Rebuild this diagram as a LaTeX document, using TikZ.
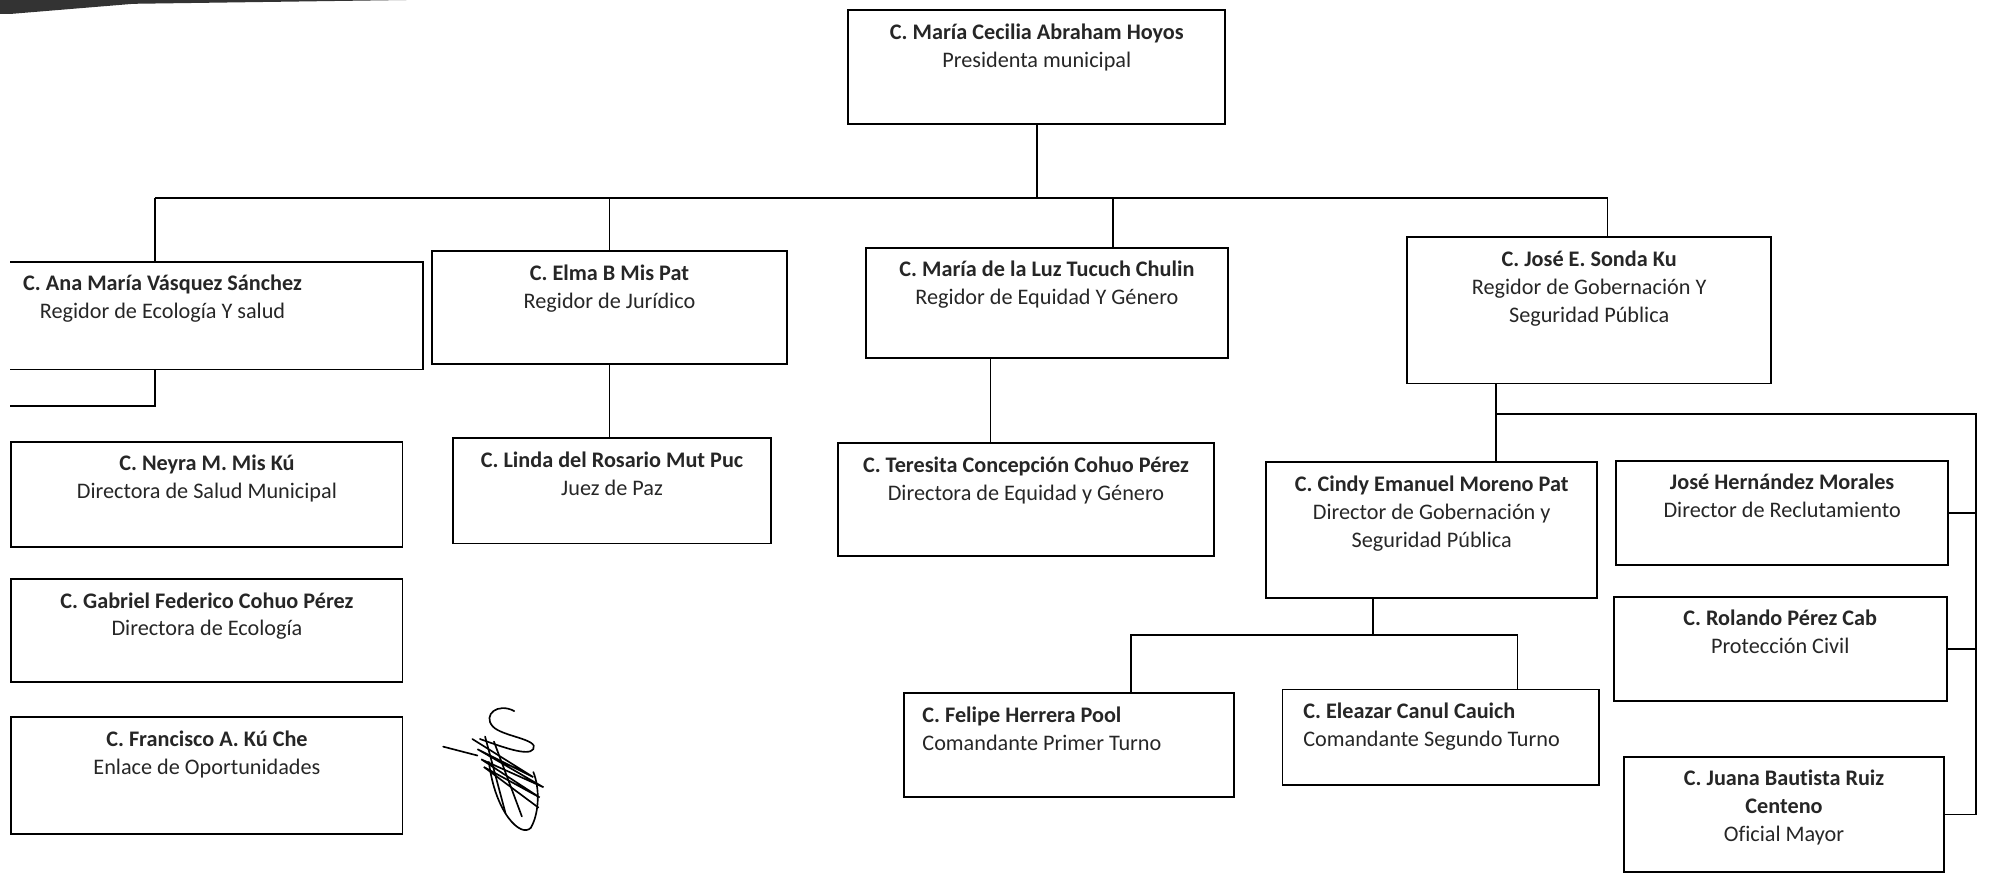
\documentclass[tikz,border=0pt]{standalone}
\usepackage{fontspec}
\setmainfont{Carlito}[Ligatures=NoCommon]
\usetikzlibrary{positioning}
\tikzstyle{caja}=[draw, rectangle, line width=1.5pt, inner sep=0pt]
\tikzstyle{texto}=[align=center, inner sep=0pt, text=black!85, font=\fontsize{17.5}{22}\selectfont]
\tikzstyle{textoizq}=[texto, align=left]
\tikzstyle{linea}=[line width=1.4pt]

\begin{document}
\begin{tikzpicture}[x=1pt, y=-1pt]
\useasboundingbox (0,0) rectangle (1568,688);
% Scan mark
    \fill[black!80] (0,0) -- (320,0) -- (105,3) -- (8,11) -- (0,11) -- cycle;
% Boxes
    \node[caja, minimum width=297, minimum height=90] (pres) at (816.5,53) {};
    \begin{scope}
    \clip (8,0) rectangle (1568,688);
    \node[caja, minimum width=410, minimum height=85] (ana) at (128,248.5) {};
    \node[caja, minimum width=308, minimum height=83] (neyra) at (163,389.5) {};
    \node[caja, minimum width=308, minimum height=81] (gabriel) at (163,496.5) {};
    \node[caja, minimum width=308, minimum height=92] (francisco) at (163,611) {};
    \end{scope}
    \node[caja, minimum width=280, minimum height=89] (elma) at (480,242.5) {};
    \node[caja, minimum width=250, minimum height=83] (linda) at (482,386.5) {};
    \node[caja, minimum width=285, minimum height=87] (maria) at (824.5,238.5) {};
    \node[caja, minimum width=296, minimum height=89] (teresita) at (808,393.5) {};
    \node[caja, minimum width=287, minimum height=115] (jose) at (1251.5,244.5) {};
    \node[caja, minimum width=261, minimum height=107] (cindy) at (1127.5,417.5) {};
    \node[caja, minimum width=261, minimum height=82] (hernandez) at (1403.5,404) {};
    \node[caja, minimum width=262, minimum height=82] (rolando) at (1402,511) {};
    \node[caja, minimum width=252, minimum height=91] (juana) at (1405,641.5) {};
    \node[caja, minimum width=260, minimum height=82] (felipe) at (842,587) {};
    \node[caja, minimum width=249, minimum height=75] (eleazar) at (1134.5,580.5) {};
% Texts
    \node[texto, below=8pt of pres.north] (presT) {\strut\textbf{C. María Cecilia Abraham Hoyos}\\Presidenta municipal};
    \node[texto, below=8pt of ana.north] (anaT) {\strut\textbf{C. Ana María Vásquez Sánchez}\\Regidor de Ecología Y salud};
    \node[texto, below=8pt of neyra.north] (neyraT) {\strut\textbf{C. Neyra M. Mis Kú}\\Directora de Salud Municipal};
    \node[texto, below=8pt of gabriel.north] (gabrielT) {\strut\textbf{C. Gabriel Federico Cohuo Pérez}\\Directora de Ecología};
    \node[texto, below=8pt of francisco.north] (franciscoT) {\strut\textbf{C. Francisco A. Kú Che}\\Enlace de Oportunidades};
    \node[texto, below=8pt of elma.north] (elmaT) {\strut\textbf{C. Elma B Mis Pat}\\Regidor de Jurídico};
    \node[texto, below=8pt of linda.north] (lindaT) {\strut\textbf{C. Linda del Rosario Mut Puc}\\Juez de Paz};
    \node[texto, below=8pt of maria.north] (mariaT) {\strut\textbf{C. María de la Luz Tucuch Chulin}\\Regidor de Equidad Y Género};
    \node[texto, below=8pt of teresita.north] (teresitaT) {\strut\textbf{C. Teresita Concepción Cohuo Pérez}\\Directora de Equidad y Género};
    \node[texto, below=8pt of jose.north] (joseT) {\strut\textbf{C. José E. Sonda Ku}\\Regidor de Gobernación Y\\Seguridad Pública};
    \node[texto, below=8pt of cindy.north] (cindyT) {\strut\textbf{C. Cindy Emanuel Moreno Pat}\\Director de Gobernación y\\Seguridad Pública};
    \node[texto, below=8pt of hernandez.north] (hernandezT) {\strut\textbf{José Hernández Morales}\\Director de Reclutamiento};
    \node[texto, below=8pt of rolando.north] (rolandoT) {\strut\textbf{C. Rolando Pérez Cab}\\Protección Civil};
    \node[texto, below=8pt of juana.north] (juanaT) {\strut\textbf{C. Juana Bautista Ruiz}\\\textbf{Centeno}\\Oficial Mayor};
    \node[textoizq, below right=8pt and 15pt of felipe.north west] (felipeT) {\strut\textbf{C. Felipe Herrera Pool}\\Comandante Primer Turno};
    \node[textoizq, below right=8pt and 17pt of eleazar.north west] (eleazarT) {\strut\textbf{C. Eleazar Canul Cauich}\\Comandante Segundo Turno};
% Lines
    \coordinate (busL) at (122,156);
    \coordinate (busR) at (1266,156);
    \coordinate (anaEnd) at (8,320);
    \coordinate (subL) at (1178,326);
    \coordinate (subR) at (1556,326);
    \coordinate (turL) at (891,500);
    \coordinate (turC) at (1081,500);
    \coordinate (turR) at (1195,500);
    \draw[linea] (pres.south) -- (pres.south |- busL);
    \draw[linea] (busL) -- (busR);
    \draw[linea] (busL) -- (busL |- ana.north);
    \draw[linea] (busL |- ana.south) |- (anaEnd);
    \draw[linea] (elma.north |- busL) -- (elma.north);
    \draw[linea] (elma.south) -- (elma.south |- linda.north);
    \draw[linea] ([xshift=52pt]maria.north |- busL) -- ([xshift=52pt]maria.north);
    \draw[linea] ([xshift=-44.5pt]maria.south) -- ([xshift=-44.5pt]maria.south |- teresita.north);
    \draw[linea] (busR) -- (busR |- jose.north);
    \draw[linea] (subL |- jose.south) -- (subL |- cindy.north);
    \draw[linea] (subL) -- (subR) |- (juana.east);
    \draw[linea] (hernandez.east) -- (hernandez.east -| subR);
    \draw[linea] (rolando.east) -- (rolando.east -| subR);
    \draw[linea] (turC |- cindy.south) -- (turC);
    \draw[linea] (turL |- felipe.north) -- (turL) -- (turR) -- (turR |- eleazar.north);
% Signature
    \draw[line width=1.3pt, line cap=round] (405,560) .. controls (392,553) and (380,563) .. (388,572) .. controls (395,580) and (425,582) .. (420,590) .. controls (416,596) and (395,588) .. (378,582);
    \draw[line width=1.3pt, line cap=round] (372,582) -- (420,612) -- (376,590) -- (428,620) -- (379,598) -- (425,628) -- (381,604) -- (424,636);
    \draw[line width=1.3pt, line cap=round] (382,580) -- (398,640) (389,584) -- (411,643);
    \draw[line width=1.3pt, line cap=round] (385,600) .. controls (390,640) and (410,660) .. (418,652) .. controls (425,640) and (425,620) .. (420,608);
    \draw[line width=1.3pt, line cap=round] (349,588) -- (376,595);
\end{tikzpicture}
\end{document}
